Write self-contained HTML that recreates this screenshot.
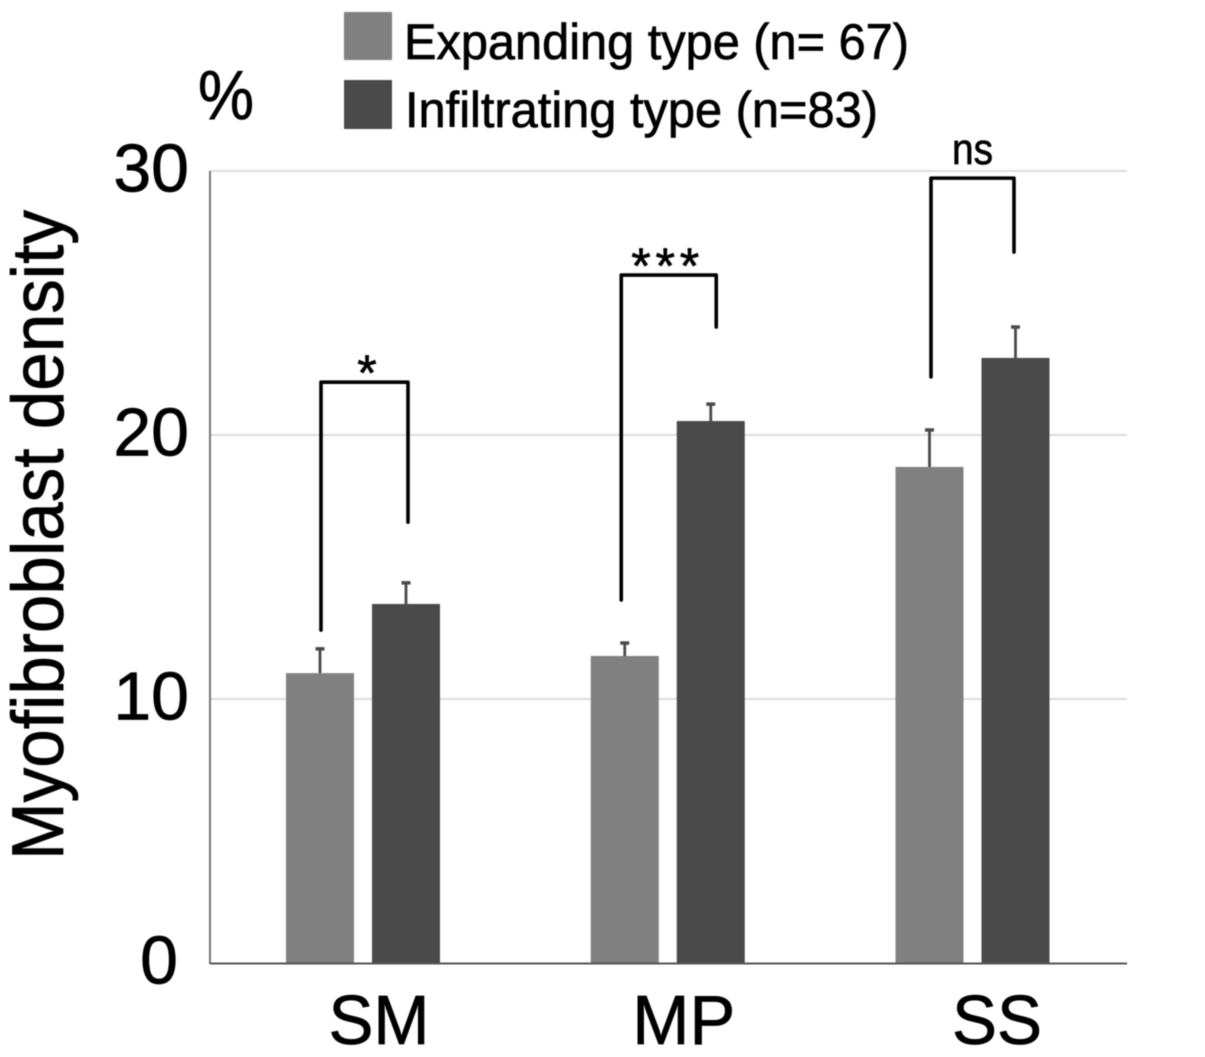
<!DOCTYPE html>
<html lang="en">
<head>
<meta charset="utf-8">
<title>Myofibroblast density by invasion type</title>
<style>
html,body{margin:0;padding:0;background:#fff;}
#chart-svg{display:block;width:1205px;height:1057px;filter:blur(0.5px);}
text{font-family:"Liberation Sans",Arial,sans-serif;fill:#000;stroke:#000;stroke-width:0.7px;}
</style>
</head>
<body>
<svg id="chart-svg" xmlns="http://www.w3.org/2000/svg" width="1205" height="1057" viewBox="0 0 1205 1057">
  <rect x="0" y="0" width="1205" height="1057" fill="#ffffff"/>
  <g id="grid"></g>
  <g id="bars"></g>
  <g id="errors"></g>
  <g id="axes"></g>
  <g id="brackets"></g>
  <g id="labels"></g>

  <g>
    <rect x="344" y="12" width="48" height="48" fill="#808080"/>
    <text x="404" y="59" font-size="50" textLength="505" lengthAdjust="spacingAndGlyphs">Expanding type (n= 67)</text>
    <rect x="344" y="80" width="48" height="49" fill="#4a4a4a"/>
    <text x="405" y="127" font-size="50" textLength="473" lengthAdjust="spacingAndGlyphs">Infiltrating type (n=83)</text>
  </g>
  <text x="198" y="119" font-size="70" textLength="56" lengthAdjust="spacingAndGlyphs">%</text>
  <text transform="translate(63,860) rotate(-90)" x="0" y="0" font-size="73" textLength="650" lengthAdjust="spacingAndGlyphs">Myofibroblast density</text>
</svg>
<script>
var categories = ['SM', 'MP', 'SS'];
var expandingValues = [10.98, 11.63, 18.79];
var infiltratingValues = [13.6, 20.53, 22.92];
var expandingErrorTops = [11.9, 12.12, 20.19];
var infiltratingErrorTops = [14.4, 21.17, 24.09];
var yTicks = [0, 10, 20, 30];
var significanceLabels = ['*', '***', 'ns'];
var bracketTops = [22.0, 26.06, 29.73];
var bracketLeftEnds = [12.61, 13.75, 22.2];
var bracketRightEnds = [16.7, 24.09, 26.93];

var NS = 'http://www.w3.org/2000/svg';
var plotLeft = 210, plotRight = 1127, plotBottom = 963, pxPerUnit = 26.4;
var firstCenter = 363, groupStep = 304.75;
var barWidth = 68, barGap = 9;

function yScale(v) { return plotBottom - v * pxPerUnit; }
function xScale(i) { return firstCenter + i * groupStep; }
function make(tag, attrs, parent) {
  var el = document.createElementNS(NS, tag);
  for (var k in attrs) { el.setAttribute(k, attrs[k]); }
  parent.appendChild(el);
  return el;
}

var gridG = document.getElementById('grid');
var barsG = document.getElementById('bars');
var errG = document.getElementById('errors');
var axesG = document.getElementById('axes');
var brG = document.getElementById('brackets');
var labG = document.getElementById('labels');

yTicks.forEach(function (t) {
  if (t > 0) {
    var g = make('line', {x1: plotLeft, x2: plotRight, y1: yScale(t), y2: yScale(t), stroke: '#dcdcdc', 'stroke-width': 2}, gridG);
    
    
  }
  var lbl = make('text', {x: t === 0 ? 178 : 189, y: yScale(t) + 20.5, 'font-size': 68, 'text-anchor': 'end'}, labG);
  lbl.textContent = String(t);
  
  
});

function drawBar(cx, value, errTop, color, name) {
  var top = yScale(value);
  var r = make('rect', {x: cx - barWidth / 2, y: top, width: barWidth, height: plotBottom - top, fill: color}, barsG);
  
  
  var et = yScale(errTop);
  var stem = make('line', {x1: cx, x2: cx, y1: top, y2: et, stroke: '#4a4a4a', 'stroke-width': 2.8}, errG);
  
  
  var cap = make('line', {x1: cx - 4.5, x2: cx + 4.5, y1: et, y2: et, stroke: '#4a4a4a', 'stroke-width': 3.5}, errG);
  
  
}

var tickShift = [16, 16, 24.5];
var tickInkWidth = [101, 103, 90];
var bracketHalfSpan = [43.5, 47.5, 41.5];
var bracketShift = [1.5, 1, 0];
var sigShift = [2.5, -3.5, 0];

categories.forEach(function (c, i) {
  var cx = xScale(i);
  var off = barGap + barWidth / 2;
  drawBar(cx - off, expandingValues[i], expandingErrorTops[i], '#808080', c.toLowerCase() + '-expanding');
  drawBar(cx + off, infiltratingValues[i], infiltratingErrorTops[i], '#4a4a4a', c.toLowerCase() + '-infiltrating');

  var lbl = make('text', {x: cx + tickShift[i], y: 1044, 'font-size': 70, 'text-anchor': 'middle', textLength: tickInkWidth[i], lengthAdjust: 'spacingAndGlyphs'}, labG);
  lbl.textContent = c;
  
  

  var mid = cx + bracketShift[i];
  var lx = mid - bracketHalfSpan[i], rx = mid + bracketHalfSpan[i];
  var path = make('path', {
    d: 'M' + lx + ' ' + yScale(bracketLeftEnds[i]) + ' L' + lx + ' ' + yScale(bracketTops[i]) +
       ' L' + rx + ' ' + yScale(bracketTops[i]) + ' L' + rx + ' ' + yScale(bracketRightEnds[i]),
    fill: 'none', stroke: '#000', 'stroke-width': 3.6, 'stroke-linejoin': 'round', 'stroke-linecap': 'round'
  }, brG);
  
  

  var s = significanceLabels[i];
  var isNs = s === 'ns';
  var attrs = {
    x: mid + sigShift[i],
    y: isNs ? yScale(bracketTops[i]) - 14 : yScale(bracketTops[i]) + 8,
    'font-size': isNs ? 44 : 50,
    'text-anchor': 'middle'
  };
  if (s.length > 1) {
    attrs.textLength = isNs ? 41 : 68;
    attrs.lengthAdjust = isNs ? 'spacingAndGlyphs' : 'spacing';
  }
  var sig = make('text', attrs, brG);
  sig.textContent = s;
  
  
});

var yAxis = make('line', {x1: plotLeft, x2: plotLeft, y1: yScale(30), y2: plotBottom + 1, stroke: '#777', 'stroke-width': 2}, axesG);


var xAxis = make('line', {x1: plotLeft, x2: plotRight, y1: plotBottom + 0.5, y2: plotBottom + 0.5, stroke: '#555', 'stroke-width': 2}, axesG);


</script>
</body>
</html>
